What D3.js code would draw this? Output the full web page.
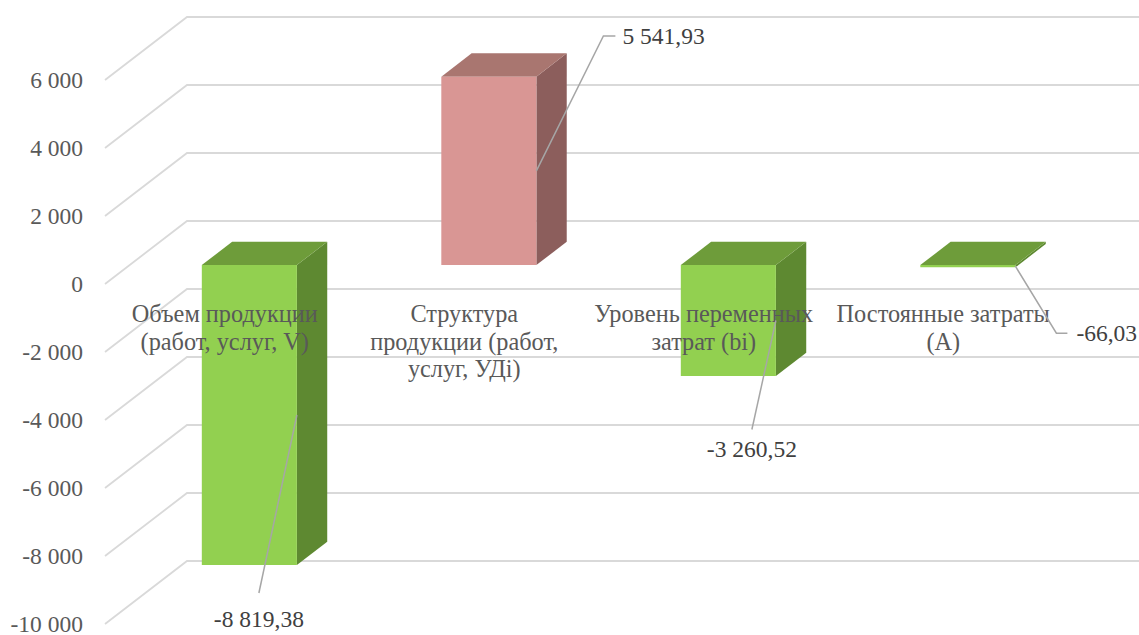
<!DOCTYPE html>
<html><head><meta charset="utf-8">
<script src="https://cdn.jsdelivr.net/npm/d3@7"></script>
<style>
html,body{margin:0;padding:0;background:#fff;}
svg{display:block;}
</style></head>
<body>
<svg id="chart" width="1139" height="635"></svg>
<script>
// ---- data ----
const categories = [
  "Объем продукции\n(работ, услуг, V)",
  "Структура\nпродукции (работ,\nуслуг, УДі)",
  "Уровень переменных\nзатрат (bi)",
  "Постоянные затраты\n(А)"
];
const values = [-8819.38, 5541.93, -3260.52, -66.03];
const valueLabels = ["-8 819,38", "5 541,93", "-3 260,52", "-66,03"];
const tickValues = [-10000, -8000, -6000, -4000, -2000, 0, 2000, 4000, 6000];
const tickLabels = ["-10 000", "-8 000", "-6 000", "-4 000", "-2 000", "0", "2 000", "4 000", "6 000"];

// ---- styles / layout ----
const FONT = "'Liberation Serif', 'Times New Roman', serif";
const FS = 23.5, FS_CAT = 24.3;
const W = 1139, H = 635;
const DX = 82, DY = 63;          // depth projection of the full wall
const F0 = 0.30, F1 = 0.67;      // bar depth range (fraction of wall depth)
const colors = {
  pos: {front: "#d99694", top: "#a97670", side: "#8c5e5c"},
  neg: {front: "#92d050", top: "#6e9c3a", side: "#5e8931"}
};
// label leader offsets relative to bar anchor (front-right edge, mid height)
const leaders = [
  {dx: -38, dy: 178, elbow: 0, anchor: "middle", tx: 0, ty: 26},
  {dx: 67, dy: -135, elbow: 12, anchor: "start", tx: 7, ty: 0},
  {dx: -24, dy: 109, elbow: 0, anchor: "middle", tx: 0, ty: 20},
  {dx: 41, dy: 67, elbow: 11, anchor: "start", tx: 9, ty: 0}
];

const svg = d3.select("#chart");
const y = d3.scaleLinear().domain([-10000, 6000]).range([624, 80]);
const x = d3.scaleBand().domain(categories).range([105, 1063]);
const barW = x.bandwidth() * 0.397;
const P = (px, v, f) => [px + DX * f, y(v) - DY * f];

// gridlines (side wall diagonal + back wall horizontal)
const grid = svg.append("g");
tickValues.forEach(t => {
  const a = P(x.range()[0], t, 0), b = P(x.range()[0], t, 1), c = [W + 10, b[1]];
  grid.append("path")
    .attr("d", d3.line()([a, b, c]))
    .attr("fill", "none").attr("stroke", "#d9d9d9").attr("stroke-width", 1.8);
});

// axis tick labels
svg.append("g").selectAll("text").data(tickValues).join("text")
  .style("font-family", FONT).style("font-size", FS + "px")
  .attr("x", 83).attr("y", d => y(d)).attr("dy", "0.33em")
  .attr("text-anchor", "end").attr("fill", "#595959")
  .text((d, i) => tickLabels[i]);

// bars
const bars = svg.append("g");
const poly = pts => "M" + pts.map(p => p.join(",")).join("L") + "Z";
const anchors = [];
values.forEach((v, i) => {
  const c = x(categories[i]) + x.bandwidth() / 2;
  const x0 = c - barW / 2, x1 = c + barW / 2;
  const col = v >= 0 ? colors.pos : colors.neg;
  const top = Math.max(v, 0), bot = Math.min(v, 0);
  bars.append("path").attr("fill", col.side)
    .attr("d", poly([P(x1, top, F0), P(x1, top, F1), P(x1, bot, F1), P(x1, bot, F0)]));
  bars.append("path").attr("fill", col.top)
    .attr("d", poly([P(x0, top, F0), P(x1, top, F0), P(x1, top, F1), P(x0, top, F1)]));
  bars.append("path").attr("fill", col.front)
    .attr("d", poly([P(x0, top, F0), P(x1, top, F0), P(x1, bot, F0), P(x0, bot, F0)]));
  anchors.push(P(x1, (top + bot) / 2, F0));
});

// category labels
const catG = svg.append("g");
categories.forEach(cat => {
  const lines = cat.split("\n");
  const t = catG.append("text")
    .style("font-family", FONT).style("font-size", FS_CAT + "px")
    .attr("text-anchor", "middle").attr("fill", "#595959");
  lines.forEach((ln, j) => {
    t.append("tspan").attr("x", x(cat) + x.bandwidth() / 2).attr("y", 322 + j * 27.5).text(ln);
  });
});

// data labels with leader lines
const lab = svg.append("g");
anchors.forEach((a, i) => {
  const L = leaders[i];
  const e = [a[0] + L.dx, a[1] + L.dy];
  const pts = [a, e];
  if (L.elbow) pts.push([e[0] + L.elbow, e[1]]);
  lab.append("path").attr("d", d3.line()(pts))
    .attr("fill", "none").attr("stroke", "#a6a6a6").attr("stroke-width", 1.5);
  const last = pts[pts.length - 1];
  lab.append("text")
    .style("font-family", FONT).style("font-size", FS + "px")
    .attr("x", last[0] + L.tx).attr("y", last[1] + L.ty).attr("dy", "0.33em")
    .attr("text-anchor", L.anchor).attr("fill", "#404040")
    .text(valueLabels[i]);
});
</script>
</body></html>
